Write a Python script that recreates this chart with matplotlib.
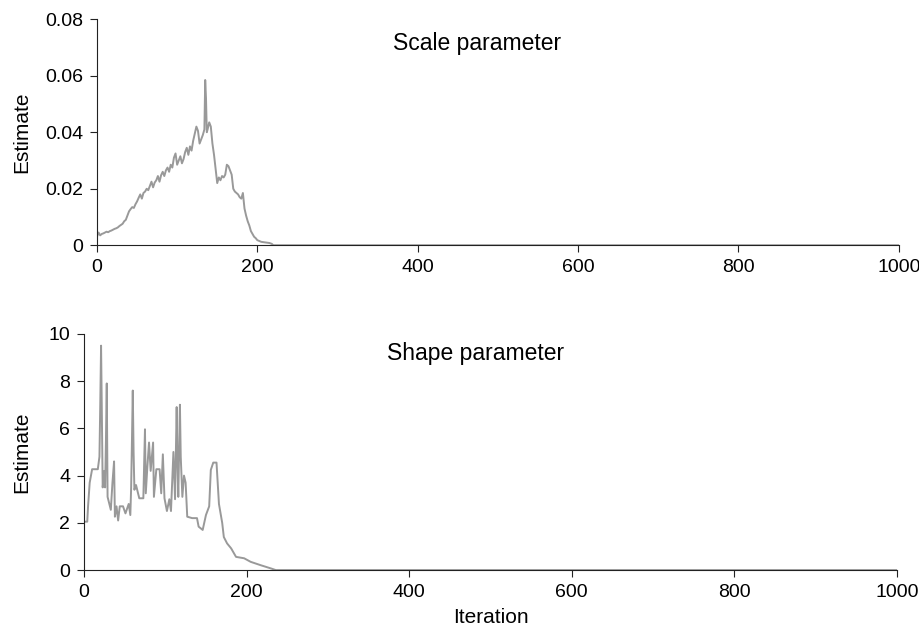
import matplotlib.pyplot as plt

# scale parameter trace (iteration, estimate)
scale_iter = [0, 2, 4, 6, 8, 10, 12, 14, 16, 18, 20, 22, 24, 26, 28, 30, 32, 34, 36, 38,
              40, 42, 44, 46, 48, 50, 52, 54, 56, 58, 60, 62, 64, 66, 68, 70, 72, 74, 76, 78,
              80, 82, 84, 86, 88, 90, 92, 94, 96, 98, 100, 102, 104, 106, 108, 110, 112, 114,
              116, 118, 120, 122, 124, 126, 128, 130, 132, 134, 135, 136, 137, 138, 140, 142,
              144, 146, 148, 150, 152, 154, 156, 158, 160, 162, 164, 166, 168, 170, 172, 174,
              176, 178, 180, 182, 184, 186, 188, 190, 192, 194, 196, 198, 200, 205, 210, 215,
              218, 220, 1000]
scale_est = [0.003, 0.0045, 0.0035, 0.004, 0.0042, 0.0045, 0.0048, 0.0046, 0.005, 0.0052,
             0.0055, 0.0058, 0.006, 0.0063, 0.0068, 0.0072, 0.0076, 0.0085, 0.009, 0.0105,
             0.012, 0.0128, 0.0135, 0.0132, 0.0145, 0.0155, 0.0168, 0.018, 0.0165, 0.0185,
             0.019, 0.02, 0.0195, 0.021, 0.0225, 0.0205, 0.0222, 0.023, 0.0245, 0.0225,
             0.0248, 0.026, 0.0245, 0.0265, 0.0275, 0.026, 0.0285, 0.0275, 0.031, 0.0325,
             0.0285, 0.03, 0.0315, 0.029, 0.0305, 0.033, 0.0345, 0.032, 0.035, 0.0335,
             0.037, 0.0395, 0.042, 0.0405, 0.036, 0.0375, 0.039, 0.041, 0.0585, 0.052,
             0.04, 0.041, 0.0435, 0.042, 0.036, 0.032, 0.027, 0.022, 0.024, 0.023,
             0.0245, 0.024, 0.025, 0.0285, 0.028, 0.0265, 0.025, 0.02, 0.019, 0.0185,
             0.018, 0.017, 0.0165, 0.0185, 0.013, 0.0105, 0.0085, 0.007, 0.005, 0.004,
             0.003, 0.0025, 0.0018, 0.0012, 0.001, 0.0008, 0.0005, 0.0, 0.0]

# shape parameter trace
shape_iter = [0, 4, 5, 7, 10, 17, 19, 20, 21, 22, 23, 25, 26, 27, 28, 29, 33, 35, 37, 38,
              40, 42, 44, 48, 51, 55, 57, 58, 59, 60, 61, 62, 64, 68, 73, 74, 75, 76, 78,
              80, 82, 85, 86, 89, 93, 95, 97, 99, 102, 105, 107, 110, 112, 114, 115, 116,
              118, 119, 121, 123, 125, 127, 133, 139, 141, 146, 150, 154, 156, 159, 163,
              166, 170, 172, 176, 181, 187, 197, 205, 218, 230, 236, 1000]
shape_est = [2.05, 2.05, 2.7, 3.7, 4.27, 4.27, 4.8, 7.0, 9.5, 6.5, 3.5, 4.2, 3.5, 5.5, 7.9,
             3.1, 2.55, 3.7, 4.6, 2.26, 2.7, 2.1, 2.7, 2.7, 2.4, 2.8, 2.33, 3.5, 5.5, 7.6,
             5.0, 3.4, 3.6, 3.04, 3.04, 4.5, 5.96, 3.25, 4.4, 5.4, 4.2, 5.4, 3.1, 4.27, 4.27,
             3.25, 4.9, 3.04, 2.5, 3.0, 2.5, 5.0, 3.0, 6.9, 4.5, 3.1, 7.0, 4.8, 3.1, 4.0,
             3.7, 2.26, 2.2, 2.2, 1.84, 1.7, 2.33, 2.7, 4.24, 4.55, 4.55, 2.8, 2.0, 1.4,
             1.13, 0.92, 0.56, 0.5, 0.35, 0.2, 0.07, 0.0, 0.0]

line_color = "#999999"

plt.rcParams.update({
    "font.family": ["Liberation Sans", "DejaVu Sans"],
    "font.size": 14,
    "axes.spines.top": False,
    "axes.spines.right": False,
})

fig = plt.figure(figsize=(9.19, 6.42), dpi=100)
ax1 = fig.add_axes([0.1055, 0.618, 0.8725, 0.352])
ax2 = fig.add_axes([0.0914, 0.112, 0.8846, 0.368])

ax1.plot(scale_iter, scale_est, color=line_color, linewidth=1.4)
ax1.set_xlim(0, 1000)
ax1.set_ylim(0, 0.08)
ax1.set_yticks([0, 0.02, 0.04, 0.06, 0.08])
ax1.set_yticklabels(["0", "0.02", "0.04", "0.06", "0.08"])
ax1.set_xticks([0, 200, 400, 600, 800, 1000])
ax1.set_ylabel("Estimate", fontsize=15, labelpad=10)
ax1.text(0.474, 0.894, "Scale parameter", transform=ax1.transAxes,
         ha="center", va="center", fontsize=16.5)

ax2.plot(shape_iter, shape_est, color=line_color, linewidth=1.4)
ax2.set_xlim(0, 1000)
ax2.set_ylim(0, 10)
ax2.set_yticks([0, 2, 4, 6, 8, 10])
ax2.set_xticks([0, 200, 400, 600, 800, 1000])
ax2.set_ylabel("Estimate", fontsize=15, labelpad=12)
ax2.set_xlabel("Iteration", fontsize=15, labelpad=5)
ax2.text(0.482, 0.915, "Shape parameter", transform=ax2.transAxes,
         ha="center", va="center", fontsize=16.5)

for ax in (ax1, ax2):
    ax.spines["left"].set_color("#222222")
    ax.spines["bottom"].set_color("#222222")
    ax.tick_params(length=5, width=0.8, color="#222222", pad=5)

fig.savefig("out.png", dpi=100)
